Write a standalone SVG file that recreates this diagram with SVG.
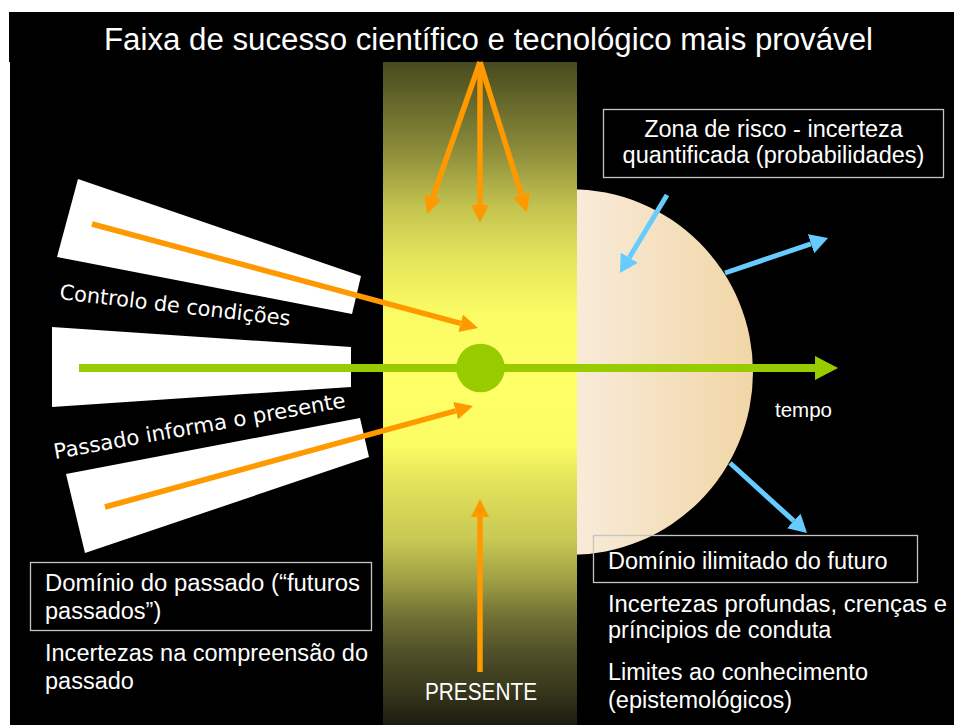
<svg xmlns="http://www.w3.org/2000/svg" width="954" height="725" viewBox="0 0 954 725">
  <defs>
    <linearGradient id="bandGrad" x1="0" y1="0" x2="0" y2="1">
      <stop offset="0" stop-color="#474a1e"/>
      <stop offset="0.13" stop-color="#8a8a3a"/>
      <stop offset="0.22" stop-color="#c4c450"/>
      <stop offset="0.30" stop-color="#e6e65c"/>
      <stop offset="0.38" stop-color="#fbfb64"/>
      <stop offset="0.50" stop-color="#ffff66"/>
      <stop offset="0.58" stop-color="#fbfb64"/>
      <stop offset="0.63" stop-color="#e4e45c"/>
      <stop offset="0.72" stop-color="#c8c854"/>
      <stop offset="0.78" stop-color="#a0a046"/>
      <stop offset="0.84" stop-color="#6e6e34"/>
      <stop offset="0.89" stop-color="#50502a"/>
      <stop offset="0.95" stop-color="#36361c"/>
      <stop offset="1" stop-color="#1c1c12"/>
    </linearGradient>
    <linearGradient id="futureGrad" gradientUnits="userSpaceOnUse" x1="577" y1="0" x2="753" y2="0">
      <stop offset="0" stop-color="#f8ebd8"/>
      <stop offset="1" stop-color="#f1d6a6"/>
    </linearGradient>
    <marker id="headOrange" markerUnits="userSpaceOnUse" markerWidth="18" markerHeight="18" refX="0" refY="9" orient="auto">
      <path d="M0,0 L18,9 L0,18 Z" fill="#ff9900"/>
    </marker>
    <marker id="headBlue" markerUnits="userSpaceOnUse" markerWidth="18" markerHeight="20" refX="0" refY="10" orient="auto">
      <path d="M0,0 L18,10 L0,20 Z" fill="#66ccff"/>
    </marker>
    <style>
      .txt { fill: #ffffff; font-family: "Liberation Sans", Arial, sans-serif; font-size: 23.5px; }
      .lbl { fill: #ffffff; font-family: "DejaVu Sans", Verdana, sans-serif; font-size: 21px; }
      .box { fill: none; stroke: #c4c4c4; stroke-width: 1.3; }
      .wedge { fill: #ffffff; }
      .orange { stroke: #ff9900; stroke-width: 5.5; fill: none; marker-end: url(#headOrange); }
      .blue { stroke: #66ccff; stroke-width: 5; fill: none; marker-end: url(#headBlue); }
    </style>
  </defs>

  <!-- background -->
  <g id="background">
    <rect x="0" y="0" width="954" height="725" fill="#ffffff"/>
    <rect x="9" y="12" width="945" height="50" fill="#000000"/>
    <rect x="10" y="62" width="944" height="663" fill="#000000"/>
  </g>

  <!-- title -->
  <g id="title">
    <text class="txt" x="104" y="50" style="font-size:31px" textLength="769" lengthAdjust="spacingAndGlyphs">Faixa de sucesso científico e tecnológico mais provável</text>
  </g>

  <!-- future zone (semicircle) -->
  <g id="future-zone">
    <circle cx="570" cy="372" r="183" fill="url(#futureGrad)"/>
  </g>

  <!-- present band -->
  <g id="present-band">
    <rect x="383" y="62" width="194" height="663" fill="url(#bandGrad)"/>
  </g>

  <!-- past wedges -->
  <g id="wedge-control">
    <polygon class="wedge" points="78,179 361,276 352,314 57,257"/>
  </g>
  <g id="wedge-past">
    <polygon class="wedge" points="52,327 351,347 351,387 52,407"/>
  </g>
  <g id="wedge-inform">
    <polygon class="wedge" points="66,474 360,418 369,457 85,553"/>
  </g>

  <!-- connectors -->
  <g id="connectors">
    <line class="orange" x1="480" y1="62" x2="432.9" y2="197"/>
    <line class="orange" x1="480" y1="62" x2="480" y2="205"/>
    <line class="orange" x1="480" y1="62" x2="521.5" y2="195"/>
    <line class="orange" x1="92" y1="224" x2="460.6" y2="323.3"/>
    <line class="orange" x1="105" y1="507" x2="455.6" y2="410.8"/>
    <line class="orange" x1="480" y1="672" x2="480" y2="517"/>
    <line class="blue" x1="667" y1="195" x2="629.3" y2="257.6"/>
    <line class="blue" x1="725" y1="273" x2="811" y2="243.8"/>
    <line class="blue" x1="730" y1="463" x2="793.7" y2="520.9"/>
    <line x1="79" y1="368" x2="816" y2="368" stroke="#99cc00" stroke-width="8"/>
    <polygon points="815,356 838,368 815,380" fill="#99cc00"/>
  </g>

  <!-- present node -->
  <g id="present-node">
    <circle cx="480.5" cy="368" r="24.3" fill="#99cc00"/>
  </g>

  <!-- rotated labels -->
  <g id="label-control">
    <text class="lbl" transform="translate(59,299) rotate(6.6)" textLength="232" lengthAdjust="spacingAndGlyphs">Controlo de condições</text>
  </g>
  <g id="label-inform">
    <text class="lbl" transform="translate(55,459) rotate(-10.1)" textLength="296" lengthAdjust="spacingAndGlyphs">Passado informa o presente</text>
  </g>

  <g id="label-tempo">
    <text x="775" y="417" style="fill:#ffffff;font-family:'Liberation Sans',Arial,sans-serif;font-size:20px" textLength="57" lengthAdjust="spacingAndGlyphs">tempo</text>
  </g>

  <g id="label-presente">
    <text class="txt" x="481" y="700" text-anchor="middle" textLength="112" lengthAdjust="spacingAndGlyphs">PRESENTE</text>
  </g>

  <!-- risk zone box -->
  <g id="box-risco">
    <rect class="box" x="603.5" y="109.5" width="340" height="68"/>
    <text class="txt" x="773.5" y="137" text-anchor="middle">Zona de risco - incerteza</text>
    <text class="txt" x="773.5" y="163" text-anchor="middle">quantificada (probabilidades)</text>
  </g>

  <!-- past domain -->
  <g id="box-passado">
    <rect class="box" x="30.5" y="562.5" width="341" height="68"/>
    <text class="txt" x="45" y="591" textLength="315" lengthAdjust="spacingAndGlyphs">Domínio do passado (“futuros</text>
    <text class="txt" x="45" y="619">passados”)</text>
  </g>
  <g id="text-passado">
    <text class="txt" x="45" y="661" textLength="323" lengthAdjust="spacingAndGlyphs">Incertezas na compreensão do</text>
    <text class="txt" x="45" y="689">passado</text>
  </g>

  <!-- future domain -->
  <g id="box-futuro">
    <rect class="box" x="593.5" y="535.5" width="324" height="47"/>
    <text class="txt" x="608" y="569">Domínio ilimitado do futuro</text>
  </g>
  <g id="text-futuro">
    <text class="txt" x="608" y="612" textLength="339" lengthAdjust="spacingAndGlyphs">Incertezas profundas, crenças e</text>
    <text class="txt" x="608" y="638">príncipios de conduta</text>
    <text class="txt" x="608" y="680">Limites ao conhecimento</text>
    <text class="txt" x="608" y="708">(epistemológicos)</text>
  </g>
</svg>
